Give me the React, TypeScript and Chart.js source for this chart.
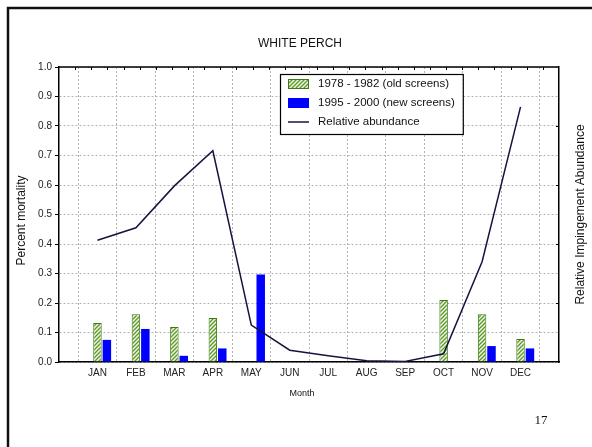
import React, { useEffect, useRef } from 'react';
import { Chart, registerables } from 'chart.js';

Chart.register(...registerables);

const MONTHS = ['JAN', 'FEB', 'MAR', 'APR', 'MAY', 'JUN', 'JUL', 'AUG', 'SEP', 'OCT', 'NOV', 'DEC'];
const OLD_SCREENS: (number | null)[] = [0.132, 0.162, 0.119, 0.149, null, null, null, null, null, 0.21, 0.162, 0.078];
const NEW_SCREENS: (number | null)[] = [0.075, 0.112, 0.021, 0.046, 0.297, null, null, null, null, null, 0.054, 0.046];
const ABUNDANCE: number[] = [0.413, 0.455, 0.597, 0.716, 0.125, 0.04, 0.021, 0.004, 0.002, 0.028, 0.34, 0.865];
const LEGEND_LABELS = ['1978 - 1982 (old screens)', '1995 - 2000 (new screens)', 'Relative abundance'];
const TITLE = 'WHITE PERCH';
const Y_TITLE = 'Percent mortality';
const Y2_TITLE = 'Relative Impingement Abundance';
const X_TITLE = 'Month';
const PAGE_NO = '17';

const FONT = "'Liberation Sans', Arial, Helvetica, sans-serif";
const GREEN_BORDER = '#3f7a14';
const BLUE = '#0000ff';
const LINE = '#141440';

function makeHatch(): CanvasPattern | string {
  const c = document.createElement('canvas');
  c.width = 4;
  c.height = 4;
  const g = c.getContext('2d');
  if (!g) return '#9cc46a';
  g.fillStyle = '#eef5e4';
  g.fillRect(0, 0, 4, 4);
  g.strokeStyle = '#5c9a28';
  g.lineWidth = 1.3;
  g.beginPath();
  g.moveTo(0, 4); g.lineTo(4, 0);
  g.moveTo(-1, 1); g.lineTo(1, -1);
  g.moveTo(3, 5); g.lineTo(5, 3);
  g.stroke();
  return g.createPattern(c, 'repeat') || '#9cc46a';
}

const toXY = (arr: (number | null)[]) => arr.map((v, i) => ({ x: i + 1, y: v }));

export default function App() {
  const ref = useRef<HTMLCanvasElement | null>(null);

  useEffect(() => {
    const canvas = ref.current;
    if (!canvas) return;
    const hatch = makeHatch();

    const decor = {
      id: 'decor',
      beforeDraw(chart: any) {
        const ctx = chart.ctx;
        ctx.save();
        ctx.fillStyle = '#ffffff';
        ctx.fillRect(0, 0, chart.width, chart.height);
        ctx.restore();
      },
      afterDraw(chart: any) {
        const { ctx, chartArea: a, scales } = chart;
        ctx.save();
        // page frame
        ctx.strokeStyle = '#111';
        ctx.lineWidth = 2.5;
        ctx.beginPath();
        ctx.moveTo(8, chart.height);
        ctx.lineTo(8, 8);
        ctx.lineTo(chart.width, 8);
        ctx.stroke();

        // top border of plot
        ctx.strokeStyle = '#000';
        ctx.lineWidth = 1.5;
        ctx.beginPath();
        ctx.moveTo(a.left, a.top);
        ctx.lineTo(a.right, a.top);
        ctx.stroke();

        // inward minor ticks on top and right
        ctx.lineWidth = 1;
        ctx.beginPath();
        const n = 31;
        for (let i = 1; i < n; i++) {
          const x = Math.round(a.left + (i * (a.right - a.left)) / n) + 0.5;
          ctx.moveTo(x, a.top);
          ctx.lineTo(x, a.top + 3);
        }
        [0.2, 0.4, 0.6, 0.8].forEach((v) => {
          const y = Math.round(scales.y.getPixelForValue(v)) + 0.5;
          ctx.moveTo(a.right, y);
          ctx.lineTo(a.right - 3, y);
        });
        ctx.stroke();

        // texts
        ctx.fillStyle = '#111';
        ctx.textAlign = 'center';
        ctx.textBaseline = 'middle';
        ctx.font = `12px ${FONT}`;
        ctx.fillText(TITLE, 300, 44);
        ctx.font = `9px ${FONT}`;
        ctx.fillText(X_TITLE, 302, 394);
        ctx.font = `12px ${FONT}`;
        ctx.save();
        ctx.translate(22, (a.top + a.bottom) / 2 + 6);
        ctx.rotate(-Math.PI / 2);
        ctx.fillText(Y_TITLE, 0, 0);
        ctx.restore();
        ctx.save();
        ctx.translate(581, (a.top + a.bottom) / 2);
        ctx.rotate(-Math.PI / 2);
        ctx.fillText(Y2_TITLE, 0, 0);
        ctx.restore();
        ctx.font = `13px 'Liberation Serif', 'Times New Roman', serif`;
        ctx.fillText(PAGE_NO, 541, 421);

        // legend
        ctx.font = `11.5px ${FONT}`;
        const tx = 318;
        const w = Math.max(...LEGEND_LABELS.map((s) => ctx.measureText(s).width));
        const bx = 280, by = 74, bw = tx - bx + w + 8, bh = 60;
        ctx.fillStyle = '#fff';
        ctx.fillRect(bx, by, bw, bh);
        ctx.strokeStyle = '#000';
        ctx.lineWidth = 1.2;
        ctx.strokeRect(bx + 0.5, by + 0.5, bw, bh);
        // patch 1
        ctx.fillStyle = hatch as any;
        ctx.fillRect(288, 79, 21, 10);
        ctx.strokeStyle = GREEN_BORDER;
        ctx.lineWidth = 1;
        ctx.strokeRect(288.5, 79.5, 20, 9);
        // patch 2
        ctx.fillStyle = BLUE;
        ctx.fillRect(288, 98, 21, 10);
        // line
        ctx.strokeStyle = LINE;
        ctx.lineWidth = 1.5;
        ctx.beginPath();
        ctx.moveTo(288, 122);
        ctx.lineTo(309, 122);
        ctx.stroke();
        ctx.fillStyle = '#111';
        ctx.textAlign = 'left';
        ctx.fillText(LEGEND_LABELS[0], tx, 84);
        ctx.fillText(LEGEND_LABELS[1], tx, 103);
        ctx.fillText(LEGEND_LABELS[2], tx, 122);
        ctx.restore();
      },
    };

    const chart = new Chart(canvas, {
      type: 'bar',
      data: {
        datasets: [
          {
            type: 'bar',
            label: '',
            data: toXY(MONTHS.map(() => null)),
            backgroundColor: 'transparent',
            order: 1,
          },
          {
            type: 'bar',
            label: LEGEND_LABELS[0],
            data: toXY(OLD_SCREENS),
            backgroundColor: hatch as any,
            borderColor: GREEN_BORDER,
            borderWidth: 1,
            order: 1,
          },
          {
            type: 'bar',
            label: LEGEND_LABELS[1],
            data: toXY(NEW_SCREENS),
            backgroundColor: BLUE,
            borderWidth: 0,
            order: 1,
          },
          {
            type: 'line',
            label: LEGEND_LABELS[2],
            data: toXY(ABUNDANCE),
            borderColor: LINE,
            borderWidth: 1.5,
            pointRadius: 0,
            tension: 0,
            fill: false,
            order: 0,
          },
        ] as any,
      },
      options: {
        responsive: false,
        animation: false,
        devicePixelRatio: 1,
        layout: { padding: { top: 67, left: 0, right: 0, bottom: 0 } },
        datasets: {
          bar: { categoryPercentage: 0.735, barPercentage: 0.9, grouped: true },
        },
        plugins: {
          legend: { display: false },
          title: { display: false },
          tooltip: { enabled: false },
        },
        scales: {
          x: {
            type: 'linear',
            min: 0,
            max: 13,
            offset: false,
            afterFit: (s: any) => { s.height = 85; },
            ticks: {
              stepSize: 1,
              autoSkip: false,
              maxRotation: 0,
              padding: 5,
              color: '#222',
              font: { family: FONT, size: 10 },
              callback: (v: any) => MONTHS[Number(v) - 1] ?? '',
            },
            grid: { color: '#b4b4b4', lineWidth: 1, drawTicks: false },
            border: { display: true, color: '#000', width: 1.5, dash: [2, 2] },
          },
          y: {
            type: 'linear',
            position: 'left',
            min: 0,
            max: 1,
            afterFit: (s: any) => { s.width = 59; },
            ticks: {
              stepSize: 0.1,
              padding: 3,
              color: '#222',
              font: { family: FONT, size: 10 },
              callback: (v: any) => Number(v).toFixed(1),
            },
            grid: {
              color: '#b4b4b4',
              lineWidth: 1,
              drawTicks: true,
              tickLength: 4,
              tickColor: '#000',
              tickBorderDash: [],
            },
            border: { display: true, color: '#000', width: 1.5, dash: [2, 2] },
          },
          y1: {
            type: 'linear',
            position: 'right',
            min: 0,
            max: 1,
            afterFit: (s: any) => { s.width = 33; },
            ticks: { display: false },
            grid: { drawOnChartArea: false, drawTicks: false },
            border: { display: true, color: '#000', width: 1.5 },
          },
        },
      } as any,
      plugins: [decor],
    });

    return () => chart.destroy();
  }, []);

  return (
    <div style={{ position: 'fixed', left: 0, top: 0, width: 592, height: 447, background: '#fff' }}>
      <canvas ref={ref} width={592} height={447} style={{ display: 'block', width: 592, height: 447 }} />
    </div>
  );
}
